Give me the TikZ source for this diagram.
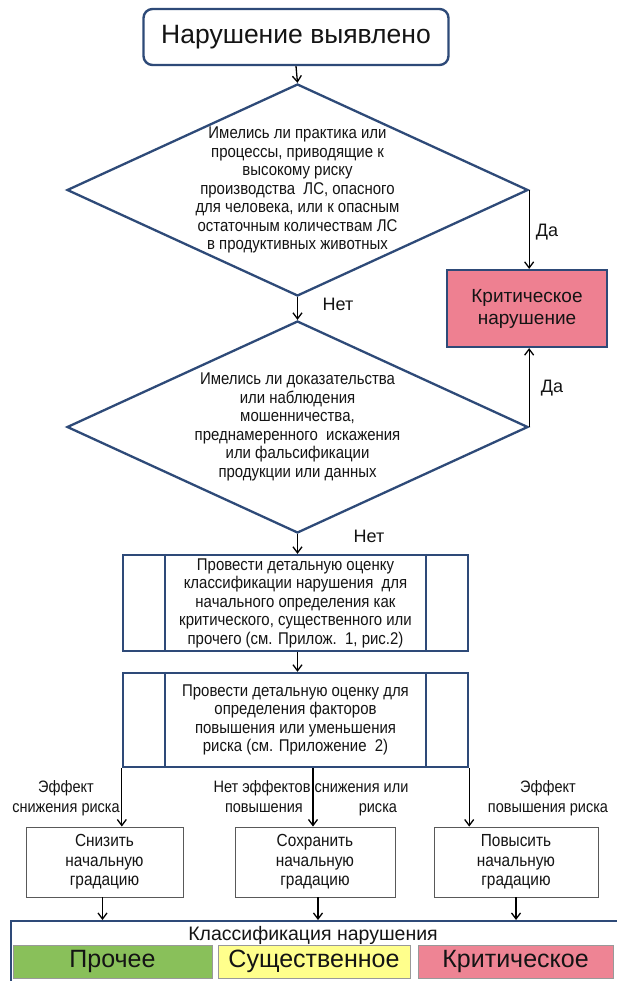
\documentclass[tikz,border=0pt]{standalone}
\usepackage{fontspec}
\setmainfont{Liberation Sans}
\newfontfamily\narrowfont[FakeStretch=0.88]{Liberation Sans}
\usetikzlibrary{shapes.geometric,arrows.meta}
\definecolor{bl}{RGB}{46,74,120}
\definecolor{critpink}{RGB}{238,128,145}
\definecolor{barpink}{RGB}{238,132,148}
\definecolor{bargreen}{RGB}{137,192,90}
\definecolor{baryellow}{RGB}{255,255,140}
\definecolor{txt}{RGB}{20,20,20}
\tikzset{
  arr/.style={-{Straight Barb[length=6pt,width=9pt]}, line width=1.3pt, black},
  titlebox/.style={draw=bl, line width=2.4pt, rounded corners=9pt, minimum width=305pt, minimum height=56pt, font=\fontsize{26.5}{29}\selectfont, text=txt},
  dia/.style={diamond, draw=bl, line width=2.3pt, inner sep=0pt, minimum width=461pt, minimum height=212pt},
  diatext/.style={align=center, text=txt, inner sep=0pt, font=\narrowfont\fontsize{17}{18.5}\selectfont},
  critbox/.style={draw=bl, line width=2.2pt, fill=critpink, minimum width=160pt, minimum height=77pt, align=center, text=txt, font=\fontsize{19}{22}\selectfont},
  procbox/.style={draw=bl, line width=2.4pt, minimum width=345pt, align=center, text=txt, font=\narrowfont\fontsize{17}{18.5}\selectfont},
  smallbox/.style={draw=black!65, line width=0.9pt, minimum height=70pt, align=center, text=txt, font=\narrowfont\fontsize{17.5}{19.5}\selectfont},
  lbl/.style={align=center, text=txt, inner sep=0pt, font=\narrowfont\fontsize{16.5}{20}\selectfont},
  yesno/.style={text=txt, inner sep=0pt, font=\fontsize{18}{20}\selectfont},
  bar/.style={draw=black!40, line width=0.8pt, minimum height=33pt, text=txt, font=\fontsize{25}{28}\selectfont}
}
\begin{document}
\begin{tikzpicture}[x=1pt,y=-1pt]
\useasboundingbox[fill=white] (0,0) rectangle (616,981);

\node[titlebox] (title) at (296,37) {Нарушение выявлено};

\node[dia] (d1) at (297.5,190) {};
\node[diatext] (t1) at (d1.center) {Имелись ли практика или\\процессы, приводящие к\\высокому риску\\производства\ \ ЛС, опасного\\для человека, или к опасным\\остаточным количествам ЛС\\в продуктивных животных};

\node[dia] (d2) at (297.5,427) {};
\node[diatext] (t2) at (d2.center) {Имелись ли доказательства\\или наблюдения\\мошенничества,\\преднамеренного\ \ искажения\\или фальсификации\\продукции или данных};

\node[critbox] (crit) at (527,308.5) {Критическое\\нарушение};

\node[procbox, minimum height=92pt] (b1) at (295.5,603) {Провести детальную оценку\\классификации нарушения\ \ для\\начального определения как\\критического, существенного или\\прочего (см. Прилож.\ \ 1, рис.2)};
\draw[bl, line width=2.4pt] ([xshift=43pt]b1.north west) -- ([xshift=43pt]b1.south west)
      ([xshift=-43pt]b1.north east) -- ([xshift=-43pt]b1.south east);

\node[procbox, minimum height=94pt] (b2) at (295.5,720) {Провести детальную оценку для\\определения факторов\\повышения или уменьшения\\риска (см. Приложение\ \ 2)};
\draw[bl, line width=2.4pt] ([xshift=43pt]b2.north west) -- ([xshift=43pt]b2.south west)
      ([xshift=-43pt]b2.north east) -- ([xshift=-43pt]b2.south east);

\node[smallbox, minimum width=157pt] (s1) at (104.5,862) {Снизить\\начальную\\градацию};
\node[smallbox, minimum width=160pt] (s2) at (315,862) {Сохранить\\начальную\\градацию};
\node[smallbox, minimum width=164pt] (s3) at (516,862) {Повысить\\начальную\\градацию};

\node[lbl] (l1) at (66,798) {Эффект\\снижения риска};
\node[lbl] (l2) at (311,798) {Нет эффектов снижения или\\повышения\hspace{56pt}риска};
\node[lbl] (l3) at (548,798) {Эффект\\повышения риска};

\node[draw=bl, line width=2.2pt, anchor=north west, minimum width=640pt, minimum height=90pt] (big) at (10,920) {};
\node[text=txt, font=\fontsize{19.5}{22}\selectfont] (cls) at (313,935) {Классификация нарушения};
\node[bar, fill=bargreen, minimum width=199pt] (p1) at (112.5,961.5) {Прочее};
\node[bar, fill=baryellow, minimum width=192pt] (p2) at (314,961.5) {Существенное};
\node[bar, fill=barpink, minimum width=195pt] (p3) at (515.5,961.5) {Критическое};

\node[yesno] (no1) at (338,304) {Нет};
\node[yesno] (no2) at (369,536) {Нет};
\node[yesno] (yes1) at (547,232) {Да};
\node[yesno] (yes2) at (552,388) {Да};

\draw[arr] (title.south) -- (d1.north);
\draw[arr] (d1.south) -- (d2.north);
\draw[arr] (d1.east) -- (d1.east |- crit.north);
\draw[arr] (d2.east) -- (d2.east |- crit.south);
\draw[arr] (d2.south) -- (d2.south |- b1.north);
\draw[arr] (b1.south -| d2.south) -- (b2.north -| d2.south);
\draw[arr] (b2.south west) -- (b2.south west |- s1.north);
\draw[arr] (b2.south -| s2.north) ++(-2,0) -- ([xshift=-2pt]s2.north);
\draw[arr] (b2.south east) -- (b2.south east |- s3.north);
\draw[arr] (s1.south) ++(-2,0) -- ([xshift=-2pt]s1.south |- big.north);
\draw[arr] (s2.south) ++(3,0) -- ([xshift=3pt]s2.south |- big.north);
\draw[arr] (s3.south) -- (s3.south |- big.north);
\end{tikzpicture}
\end{document}
